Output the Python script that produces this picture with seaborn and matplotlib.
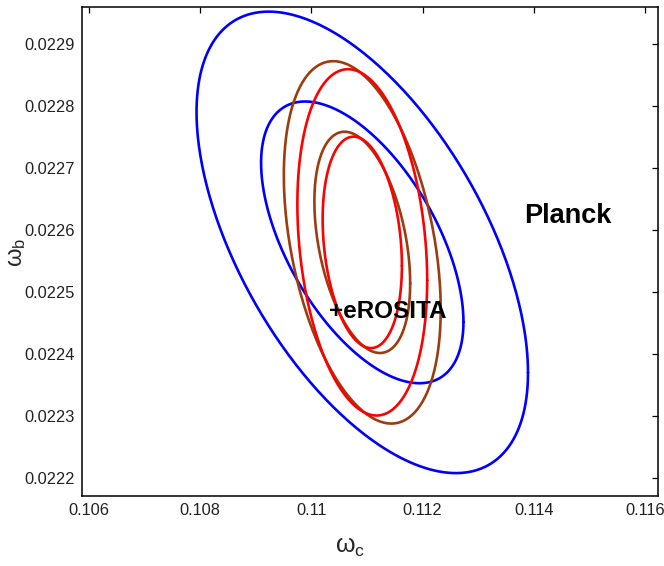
import numpy as np
import pandas as pd
import matplotlib
matplotlib.use("Agg")
import matplotlib.pyplot as plt
import seaborn as sns

# ---- data (Fisher-forecast Gaussian contours) ----
center_wc = 0.110915
center_wb = 0.022580
# per dataset: sigma(omega_c), sigma(omega_b), correlation
datasets = ["Planck", "Planck+eROSITA (a)", "Planck+eROSITA (b)"]
sigma_wc = [0.00120, 0.000568, 0.000470]
sigma_wb = [0.0001495, 0.0001174, 0.0001122]
rho = [-0.565, -0.37, -0.22]
colors = ["#0000ff", "#9c3c10", "#ff0000"]
# delta chi^2 levels for 68% and 95% in 2 parameters
dchi2_levels = [2.30, 6.17]

xticks = [0.106, 0.108, 0.110, 0.112, 0.114, 0.116]
xticklabels = ["0.106", "0.108", "0.11", "0.112", "0.114", "0.116"]
yticks = [0.0222, 0.0223, 0.0224, 0.0225, 0.0226, 0.0227, 0.0228, 0.0229]
yticklabels = ["0.0222", "0.0223", "0.0224", "0.0225", "0.0226", "0.0227", "0.0228", "0.0229"]

# build contour table
t = np.linspace(0, 2 * np.pi, 400)
rows = []
for name, sx, sy, r in zip(datasets, sigma_wc, sigma_wb, rho):
    for lvl in dchi2_levels:
        k = np.sqrt(lvl)
        x = center_wc + k * sx * np.cos(t)
        y = center_wb + k * sy * (r * np.cos(t) + np.sqrt(1 - r * r) * np.sin(t))
        rows.append(pd.DataFrame({"wc": x, "wb": y, "set": name, "level": lvl,
                                  "order": np.arange(len(t))}))
df = pd.concat(rows, ignore_index=True)

sns.set_style("white")
plt.rcParams["font.family"] = ["Liberation Sans", "DejaVu Sans"]

fig = plt.figure(figsize=(6.64, 5.66), dpi=100)
ax = fig.add_axes([82 / 664, 70 / 566, 576 / 664, 489 / 566])

for name, col in zip(datasets, colors):
    for lvl in dchi2_levels:
        sub = df[(df["set"] == name) & (df["level"] == lvl)]
        sns.lineplot(data=sub, x="wc", y="wb", sort=False, estimator=None,
                     color=col, lw=1.9, ax=ax, legend=False)

ax.set_xlim(0.105874, 0.116234)
ax.set_ylim(0.0221718, 0.0229588)
ax.set_xticks(xticks)
ax.set_xticklabels(xticklabels)
ax.set_yticks(yticks)
ax.set_yticklabels(yticklabels)
ax.tick_params(direction="in", length=4, width=0.9, top=True, right=True,
               labelsize=11.8, labelcolor="#222222", color="black", pad=5)
for s in ax.spines.values():
    s.set_color("black")
    s.set_linewidth(1.1)

ax.set_xlabel("")
ax.set_ylabel("")
fig.text(350 / 664, 1 - 547 / 566, r"$\mathregular{\omega_c}$", fontsize=18,
         ha="center", va="center")
fig.text(17 / 664, 1 - 252 / 566, r"$\mathregular{\omega_b}$", fontsize=17,
         ha="center", va="center", rotation=90)

ax.text(0.11383, 0.022623, "Planck", fontsize=19.5, fontweight="bold",
        ha="left", va="center", color="black")
ax.text(0.11032, 0.022469, "+eROSITA", fontsize=17.5, fontweight="bold",
        ha="left", va="center", color="black")

fig.savefig("out.png", dpi=100)
